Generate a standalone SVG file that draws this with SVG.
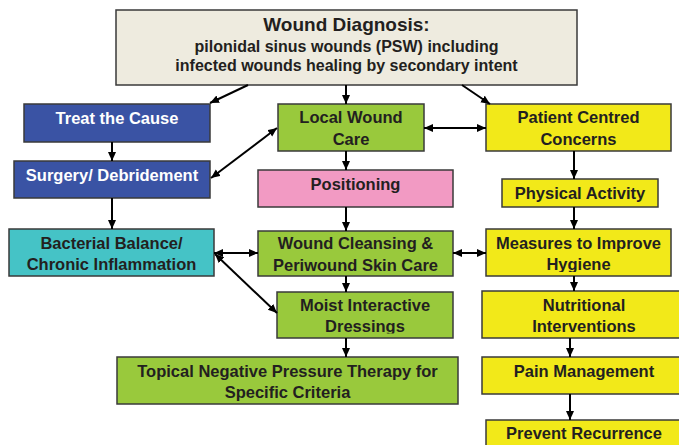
<svg xmlns="http://www.w3.org/2000/svg" width="679" height="445" viewBox="0 0 679 445">
<style>
rect.b{stroke:#3a3a3a;stroke-width:1.5}
.beige{fill:#EEEBDF}.blue{fill:#3A53A4}.teal{fill:#45C3C6}.green{fill:#99C93C}.pink{fill:#F29AC3}.yellow{fill:#F2E919}
text{font-family:"Liberation Sans",Arial,sans-serif;font-weight:bold;text-anchor:middle;fill:#231F20;font-size:16.5px}
text.w{fill:#FFFFFF}
.c path{fill:none;stroke:#000;stroke-width:2}
</style>
<defs>
<marker id="ah" markerUnits="userSpaceOnUse" markerWidth="10" markerHeight="10" viewBox="0 0 10 10" refX="9" refY="4" orient="auto-start-reverse">
<path d="M0,0 L9,4 L0,8 z" fill="#000"/>
</marker>
<clipPath id="cm"><rect x="486" y="229" width="185" height="43"/></clipPath>
<clipPath id="cd"><rect x="277" y="292" width="176" height="41.5"/></clipPath>
</defs>
<rect width="679" height="445" fill="#FFFFFF"/>
<g id="diagnosis"><rect class="b beige" x="116" y="10" width="461" height="75"/>
<text x="346.5" y="31" style="font-size:19px">Wound Diagnosis:</text>
<text x="346.5" y="52" style="font-size:16px">pilonidal sinus wounds (PSW) including</text>
<text x="346.5" y="71" style="font-size:16px">infected wounds healing by secondary intent</text></g>
<g id="treat"><rect class="b blue" x="24" y="104" width="186" height="38"/><text class="w" x="117" y="124">Treat the Cause</text></g>
<g id="surgery"><rect class="b blue" x="14" y="161" width="196" height="37"/><text class="w" x="112" y="181">Surgery/ Debridement</text></g>
<g id="bacterial"><rect class="b teal" x="9" y="229" width="205" height="47"/><text x="111.5" y="249">Bacterial Balance/</text><text x="111.5" y="270">Chronic Inflammation</text></g>
<g id="local"><rect class="b green" x="278" y="104" width="146" height="47"/><text x="351" y="123">Local Wound</text><text x="351" y="145">Care</text></g>
<g id="positioning"><rect class="b pink" x="258" y="170" width="195" height="37"/><text x="355.5" y="190">Positioning</text></g>
<g id="cleansing"><rect class="b green" x="258" y="231" width="195" height="45"/><text x="355.5" y="249">Wound Cleansing &amp;</text><text x="355.5" y="271">Periwound Skin Care</text></g>
<g id="moist"><rect class="b green" x="277" y="292" width="176" height="46"/><text x="365" y="311">Moist Interactive</text><text x="365" y="332" clip-path="url(#cd)">Dressings</text></g>
<g id="tnpt"><rect class="b green" x="117" y="357" width="341" height="47"/><text x="287.5" y="377">Topical Negative Pressure Therapy for</text><text x="287.5" y="398">Specific Criteria</text></g>
<g id="patient"><rect class="b yellow" x="486" y="104" width="185" height="47"/><text x="578.5" y="123">Patient Centred</text><text x="578.5" y="145">Concerns</text></g>
<g id="physical"><rect class="b yellow" x="502" y="179" width="156" height="28"/><text x="580" y="199">Physical Activity</text></g>
<g id="hygiene"><rect class="b yellow" x="486" y="229" width="185" height="47"/><text x="578.5" y="249">Measures to Improve</text><text x="578.5" y="270" clip-path="url(#cm)">Hygiene</text></g>
<g id="nutrition"><rect class="b yellow" x="482" y="291" width="204" height="47"/><text x="584" y="311">Nutritional</text><text x="584" y="332">Interventions</text></g>
<g id="pain"><rect class="b yellow" x="482" y="357" width="204" height="37"/><text x="584" y="377">Pain Management</text></g>
<g id="recurrence"><rect class="b yellow" x="486" y="420" width="200" height="40"/><text x="584" y="439">Prevent Recurrence</text></g>
<g id="connectors" class="c">
<path d="M248,85 L210,103" marker-end="url(#ah)"/>
<path d="M346,85 L346,104" marker-end="url(#ah)"/>
<path d="M462,85 L490,104" marker-end="url(#ah)"/>
<path d="M112,142 L112,161" marker-end="url(#ah)"/>
<path d="M112,198 L112,229" marker-end="url(#ah)"/>
<path d="M211,178 L277,128" marker-start="url(#ah)" marker-end="url(#ah)"/>
<path d="M424,128 L486,128" marker-start="url(#ah)" marker-end="url(#ah)"/>
<path d="M346,151 L346,170" marker-end="url(#ah)"/>
<path d="M346,207 L346,231" marker-end="url(#ah)"/>
<path d="M214,253 L258,253" marker-start="url(#ah)" marker-end="url(#ah)"/>
<path d="M215,254 L277,313" marker-start="url(#ah)" marker-end="url(#ah)"/>
<path d="M453,253 L486,253" marker-start="url(#ah)" marker-end="url(#ah)"/>
<path d="M574,151 L574,179" marker-end="url(#ah)"/>
<path d="M574,207 L574,229" marker-end="url(#ah)"/>
<path d="M346,276 L346,292" marker-end="url(#ah)"/>
<path d="M574,276 L574,291" marker-end="url(#ah)"/>
<path d="M346,338 L346,357" marker-end="url(#ah)"/>
<path d="M570,338 L570,357" marker-end="url(#ah)"/>
<path d="M570,394 L570,420" marker-end="url(#ah)"/>
</g>
</svg>
